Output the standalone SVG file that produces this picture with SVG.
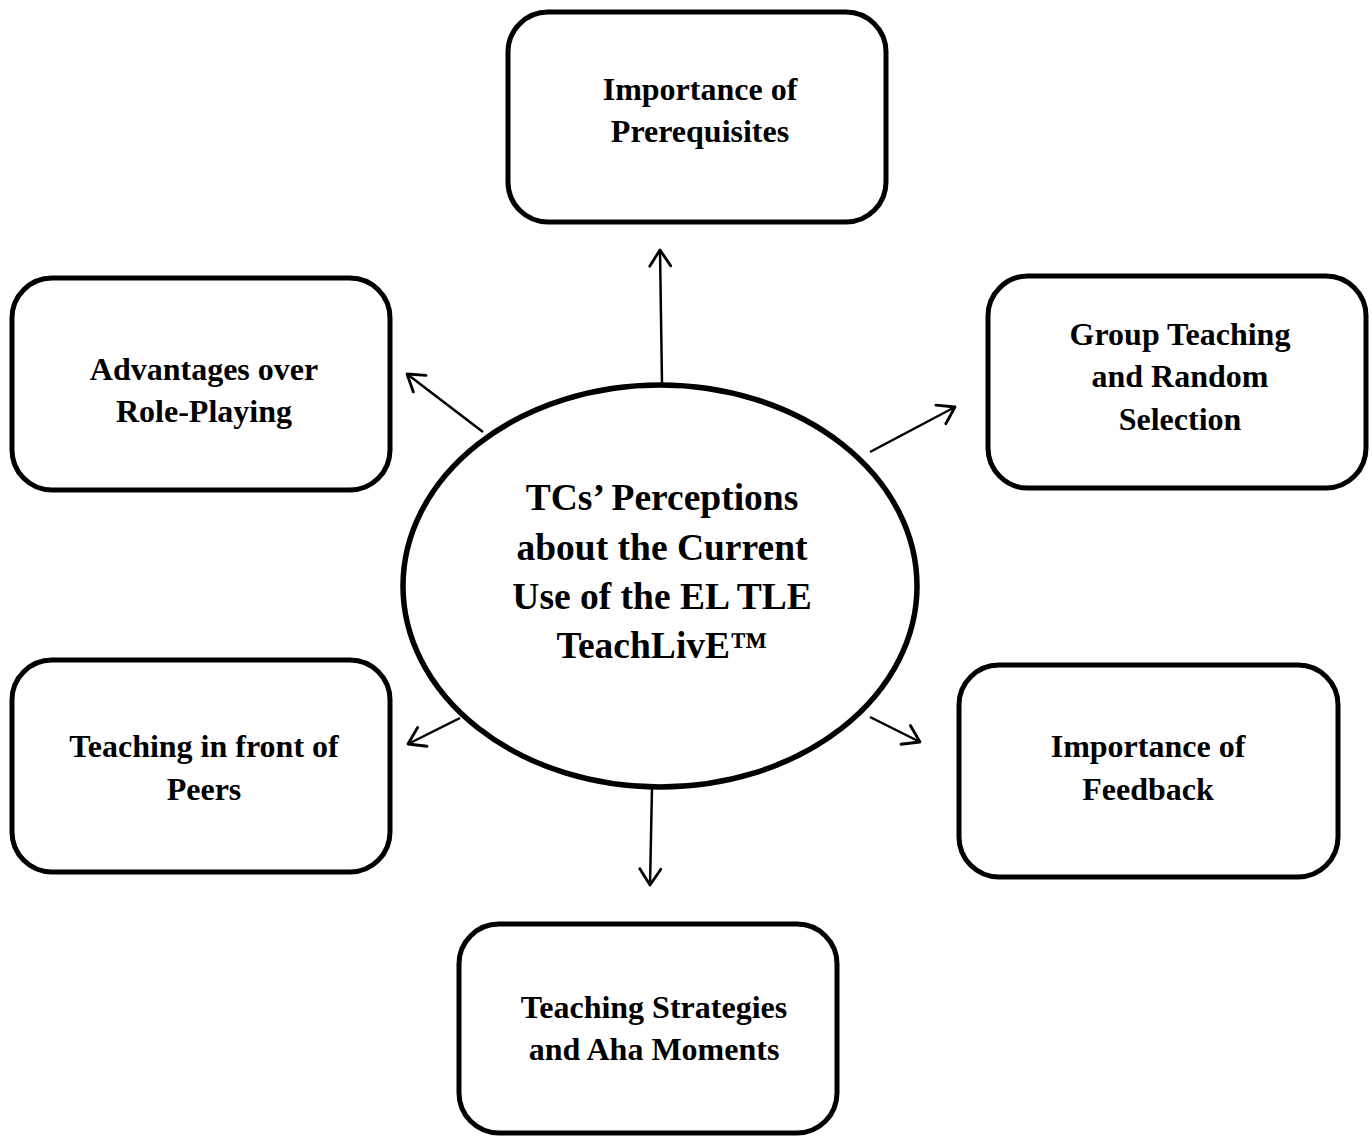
<svg xmlns="http://www.w3.org/2000/svg" width="1372" height="1136" viewBox="0 0 1372 1136">
<style>
.box{fill:#fff;stroke:#000;stroke-width:5}
.t{font-family:"Liberation Serif","Times New Roman",serif;font-weight:bold;font-size:32px;text-anchor:middle;fill:#000}
.c{font-size:37.5px}
.con{stroke:#000;stroke-width:2.5;fill:none;marker-end:url(#ah)}
</style>
<defs>
<marker id="ah" viewBox="0 0 22 24" refX="19" refY="12" markerWidth="22" markerHeight="24" markerUnits="userSpaceOnUse" orient="auto">
<path d="M3,1.5 L19,12 L3,22.5" fill="none" stroke="#000" stroke-width="2.8" stroke-linecap="round" stroke-linejoin="round"/>
</marker>
</defs>
<rect width="1372" height="1136" fill="#fff"/>
<g id="connectors">
<line class="con" x1="662" y1="383" x2="660" y2="250"/>
<line class="con" x1="483" y1="432" x2="407" y2="374"/>
<line class="con" x1="870" y1="452" x2="955" y2="407"/>
<line class="con" x1="460" y1="718" x2="408" y2="744"/>
<line class="con" x1="870" y1="717" x2="920" y2="742"/>
<line class="con" x1="652" y1="788" x2="650" y2="885"/>
</g>
<g id="center">
<ellipse cx="660" cy="586" rx="257" ry="201" fill="#fff" stroke="#000" stroke-width="5.5"/>
<text class="t c" x="662" y="510">TCs’ Perceptions</text>
<text class="t c" x="662" y="560">about the Current</text>
<text class="t c" x="662" y="609">Use of the EL TLE</text>
<text class="t c" x="662" y="658">TeachLivE™</text>
</g>
<g id="prerequisites">
<rect class="box" x="508" y="12" width="378" height="210" rx="40"/>
<text class="t" x="700" y="100">Importance of</text>
<text class="t" x="700" y="142">Prerequisites</text>
</g>
<g id="advantages">
<rect class="box" x="12" y="278" width="378" height="212" rx="40"/>
<text class="t" x="204" y="380">Advantages over</text>
<text class="t" x="204" y="422">Role-Playing</text>
</g>
<g id="group">
<rect class="box" x="988" y="276" width="378" height="212" rx="40"/>
<text class="t" x="1180" y="345">Group Teaching</text>
<text class="t" x="1180" y="387">and Random</text>
<text class="t" x="1180" y="430">Selection</text>
</g>
<g id="peers">
<rect class="box" x="12" y="660" width="378" height="212" rx="40"/>
<text class="t" x="204" y="757">Teaching in front of</text>
<text class="t" x="204" y="800">Peers</text>
</g>
<g id="feedback">
<rect class="box" x="959" y="665" width="379" height="212" rx="40"/>
<text class="t" x="1148" y="757">Importance of</text>
<text class="t" x="1148" y="800">Feedback</text>
</g>
<g id="strategies">
<rect class="box" x="459" y="924" width="378" height="209" rx="40"/>
<text class="t" x="654" y="1018">Teaching Strategies</text>
<text class="t" x="654" y="1060">and Aha Moments</text>
</g>
</svg>
